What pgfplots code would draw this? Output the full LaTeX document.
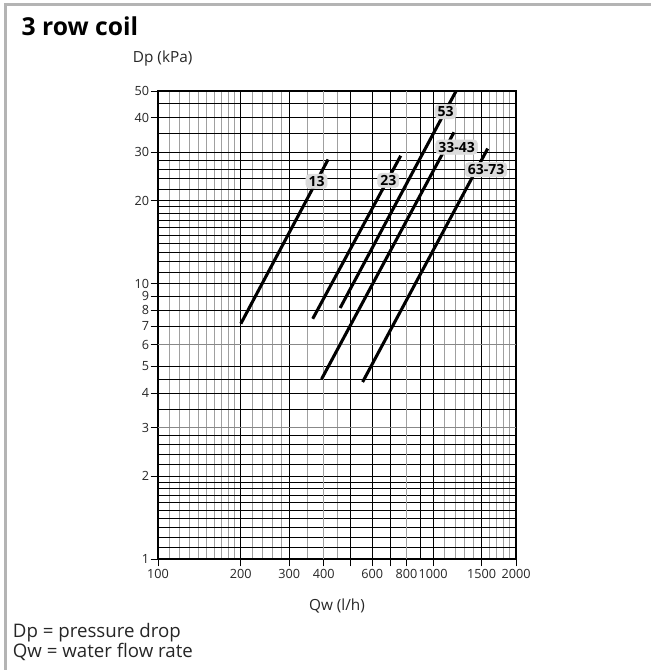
\documentclass[border=0pt]{standalone}
\usepackage{pgfplots}
\pgfplotsset{compat=1.18}
\usepackage{fontspec}
\setmainfont{Open Sans}
\definecolor{framegray}{HTML}{B4B4B4}
\definecolor{gridgray}{HTML}{A0A0A0}
\definecolor{boxgray}{HTML}{DCDCDC}
\begin{document}
\begin{tikzpicture}
\useasboundingbox (0,0) rectangle (488.25pt,-502.5pt);
\draw[framegray, line width=2.2pt] (4pt,-502.5pt) -- (4pt,-3.4pt) -- (488.25pt,-3.4pt);
\node[anchor=base west, inner sep=0pt, font=\fontsize{18.5}{22}\selectfont\bfseries] at (16pt,-27pt) {3 row coil};
\node[anchor=base west, inner sep=0pt, font=\fontsize{11.5}{13}\selectfont, text=black!85] at (99.5pt,-47.25pt) {Dp (kPa)};
\node[anchor=base, inner sep=0pt, font=\fontsize{11.5}{13}\selectfont, text=black!85] at (252.75pt,-457.5pt) {Qw (l/h)};
\node[anchor=base west, inner sep=0pt, font=\fontsize{14}{16}\selectfont, text=black!85] at (9.5pt,-477.75pt) {Dp = pressure drop};
\node[anchor=base west, inner sep=0pt, font=\fontsize{14}{16}\selectfont, text=black!85] at (9.5pt,-492.75pt) {Qw = water flow rate};
\begin{axis}[
  at={(118.5pt,-419.25pt)}, anchor=south west,
  scale only axis, width=268.5pt, height=351pt,
  xmode=log, ymode=log,
  xmin=100, xmax=2000, ymin=1, ymax=50,
  axis line style={black, line width=0.9pt},
  tick align=outside, tick pos=left,
  major tick length=5.5pt, minor tick length=0pt,
  tick style={black, line width=0.7pt},
  xtick={100,200,300,500,600,700,1000,1500,2000},
  xticklabels={100,200,300,,600,,1000,1500,2000},
  extra x ticks={400,800},
  extra x tick labels={400,800},
  extra x tick style={major grid style={gridgray, line width=1.1pt}},
  minor xtick={110,120,130,140,150,160,170,180,190,220,240,260,280,350,450,1100,1200,1300,1400,1600,1700,1800,1900},
  ytick={1,2,4,5,7,8,9,10,20,30,40,50},
  yticklabels={1,2,4,5,7,8,9,10,20,30,40,50},
  extra y ticks={3,6},
  extra y tick labels={3,6},
  extra y tick style={major grid style={gridgray!85!black, line width=1.1pt}},
  minor ytick={1.1,1.2,1.3,1.4,1.5,1.6,1.7,1.8,1.9,2.2,2.4,2.6,2.8,3.5,4.5,11,12,13,14,15,16,17,18,19,22,24,26,28,35,45},
  grid=both,
  major grid style={black, line width=0.75pt},
  minor x grid style={gridgray, line width=0.7pt},
  minor y grid style={black, line width=0.7pt},
  ticklabel style={font=\fontsize{9.5}{11}\selectfont, text=black!85},
  xticklabel style={inner sep=1pt, yshift=-1pt},
  yticklabel style={inner sep=1pt},
]
\addplot[black, line width=0.75pt, forget plot] coordinates {(900,1) (900,50)};
\addplot[black, line width=2.3pt] coordinates {(200,7.15) (415,28.2)};
\addplot[black, line width=2.3pt] coordinates {(365,7.45) (762,29.1)};
\addplot[black, line width=2.3pt] coordinates {(459,8.15) (1210,49.9)};
\addplot[black, line width=2.3pt] coordinates {(393,4.50) (1190,35.4)};
\addplot[black, line width=2.3pt] coordinates {(554,4.39) (1578,30.9)};
\coordinate (l13) at (axis cs:377,23.5);
\coordinate (l23) at (axis cs:687,23.7);
\coordinate (l53) at (axis cs:1110,42.1);
\coordinate (l3343) at (axis cs:1217,31.3);
\coordinate (l6373) at (axis cs:1556,25.9);
\end{axis}
\tikzset{lbl/.style={fill=boxgray, draw=boxgray, rounded corners=3pt, inner xsep=2pt, inner ysep=1.6pt, font=\fontsize{10.5}{12}\selectfont\bfseries}}
\node[lbl] at (l13) {13};
\node[lbl] at (l23) {23};
\node[lbl] at (l53) {53};
\node[lbl] at (l3343) {33-43};
\node[lbl] at (l6373) {63-73};
\end{tikzpicture}
\end{document}
